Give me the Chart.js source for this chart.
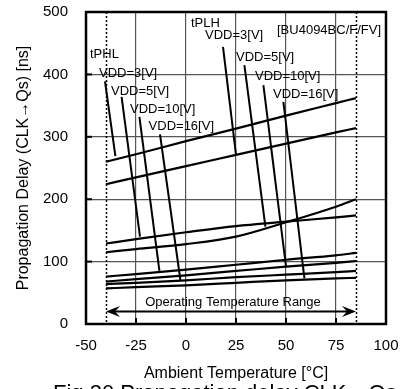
<!DOCTYPE html>
<html>
<head>
    <title>Propagation Delay vs Ambient Temperature</title>
    <script src="https://cdn.jsdelivr.net/npm/chart.js"></script>
    <style>
        body { margin: 0; background: #fff; }
    </style>
</head>
<body>
    <canvas id="plot" width="407" height="389"></canvas>

    <script>
        // Ambient temperature sample points [°C]
        const temps = [-40, -25, 0, 25, 50, 75, 85];

        // Propagation delay CLK->Qs [ns]
        const tPHL3 = [260, 272, 293, 313, 334, 354, 362];
        const tPLH3 = [224, 235, 253, 271, 289, 307, 314];
        const tPHL5 = [129, 136, 147, 157, 164, 171, 174];
        const tPLH5 = [115, 120, 128, 140, 163, 188, 200];
        const tPHL10 = [76, 80, 87, 95, 103, 110, 114];
        const tPLH10 = [68, 72, 78, 85, 92, 98, 101];
        const tPHL16 = [64, 66, 70, 75, 79, 83, 85];
        const tPLH16 = [57, 59, 62, 66, 70, 73, 74];

        const xTicks = [-50, -25, 0, 25, 50, 75, 100];
        const yTicks = [0, 100, 200, 300, 400, 500];

        // operating range limits [°C]
        const opRange = [-40, 85];

        // leader lines from labels to curves, in axis units [x1, y1, x2, y2]
        const leaders = [
            [-40.5, 389, -35.3, 269],
            [-32.2, 364, -23, 140],
            [-23.3, 332, -13.3, 85],
            [-13, 304, -2.8, 70.5],
            [18.5, 444, 25, 271],
            [29.2, 415, 39.7, 156],
            [38.7, 383, 50, 92],
            [48.7, 356, 59.2, 73]
        ];

        // label text with its left edge and vertical centre, in axis units
        const notes = [
            ['tPHL', -48, 432],
            ['VDD=3[V]', -43.5, 402],
            ['VDD=5[V]', -37.5, 373],
            ['VDD=10[V]', -28, 344.5],
            ['VDD=16[V]', -18.7, 317],
            ['tPLH', 2.5, 482],
            ['VDD=3[V]', 9.5, 463],
            ['VDD=5[V]', 25, 428],
            ['VDD=10[V]', 34.5, 397],
            ['VDD=16[V]', 43.5, 368.6],
            ['[BU4094BC/F/FV]', 45.5, 471]
        ];

        const FONT = '"Liberation Sans", Arial, sans-serif';

        const series = [tPHL3, tPLH3, tPHL5, tPLH5, tPHL10, tPLH10, tPHL16, tPLH16];
        const names = ['tPHL 3V', 'tPLH 3V', 'tPHL 5V', 'tPLH 5V', 'tPHL 10V', 'tPLH 10V', 'tPHL 16V', 'tPLH 16V'];

        const datasets = series.map((vals, i) => ({
            label: names[i],
            data: temps.map((t, j) => ({ x: t, y: vals[j] })),
            showLine: true,
            borderColor: '#000',
            borderWidth: 2.2,
            pointRadius: 0,
            cubicInterpolationMode: 'monotone'
        }));

        function arrowHead(ctx, x, y, dir) {
            ctx.beginPath();
            ctx.moveTo(x, y);
            ctx.lineTo(x + dir * 14, y - 5.5);
            ctx.lineTo(x + dir * 9, y);
            ctx.lineTo(x + dir * 14, y + 5.5);
            ctx.closePath();
            ctx.fill();
        }

        // no extra room for tick labels overhanging the plot
        function noOverhang(s) {
            s.paddingTop = 0;
            s.paddingBottom = 0;
            s.paddingLeft = 0;
            s.paddingRight = 0;
        }

        const decor = {
            id: 'decor',
            afterDatasetsDraw(chart) {
                const ctx = chart.ctx;
                const xs = chart.scales.x, ys = chart.scales.y;
                const a = chart.chartArea;
                ctx.save();

                // dotted operating range limits
                ctx.strokeStyle = '#000';
                ctx.lineWidth = 1.5;
                ctx.setLineDash([2, 2]);
                opRange.forEach(t => {
                    const px = Math.round(xs.getPixelForValue(t)) + 0.5;
                    ctx.beginPath();
                    ctx.moveTo(px, a.top);
                    ctx.lineTo(px, a.bottom);
                    ctx.stroke();
                });
                ctx.setLineDash([]);

                // leaders
                ctx.lineWidth = 2;
                leaders.forEach(l => {
                    ctx.beginPath();
                    ctx.moveTo(xs.getPixelForValue(l[0]), ys.getPixelForValue(l[1]));
                    ctx.lineTo(xs.getPixelForValue(l[2]), ys.getPixelForValue(l[3]));
                    ctx.stroke();
                });

                // labels
                ctx.fillStyle = '#000';
                ctx.font = '13px ' + FONT;
                ctx.textBaseline = 'middle';
                ctx.textAlign = 'left';
                notes.forEach(n => {
                    ctx.fillText(n[0], xs.getPixelForValue(n[1]), ys.getPixelForValue(n[2]));
                });

                // operating temperature range arrow
                const ay = ys.getPixelForValue(20);
                const ax1 = xs.getPixelForValue(opRange[0]);
                const ax2 = xs.getPixelForValue(opRange[1]);
                ctx.lineWidth = 2;
                ctx.beginPath();
                ctx.moveTo(ax1 + 8, ay);
                ctx.lineTo(ax2 - 8, ay);
                ctx.stroke();
                arrowHead(ctx, ax1, ay, 1);
                arrowHead(ctx, ax2, ay, -1);
                ctx.textAlign = 'center';
                ctx.fillText('Operating Temperature Range', xs.getPixelForValue(23.5), ys.getPixelForValue(35));

                // inward tick marks
                ctx.lineWidth = 2;
                yTicks.slice(1, -1).forEach(v => {
                    const py = ys.getPixelForValue(v);
                    ctx.beginPath();
                    ctx.moveTo(a.left, py);
                    ctx.lineTo(a.left + 6, py);
                    ctx.stroke();
                });
                xTicks.slice(1, -1).forEach(v => {
                    const px = xs.getPixelForValue(v);
                    ctx.beginPath();
                    ctx.moveTo(px, a.bottom);
                    ctx.lineTo(px, a.bottom - 6);
                    ctx.stroke();
                });

                // frame
                ctx.lineWidth = 2.5;
                ctx.strokeRect(a.left, a.top, a.right - a.left, a.bottom - a.top);
                ctx.restore();
            },
            afterDraw(chart) {
                const ctx = chart.ctx;
                ctx.save();
                ctx.fillStyle = '#000';
                ctx.font = '22px ' + FONT;
                ctx.textBaseline = 'alphabetic';
                ctx.textAlign = 'left';
                ctx.fillText('Fig.30 Propagation delay CLK\u2192Qs', 53, 400);
                ctx.restore();
            }
        };

        const ctx = document.getElementById('plot').getContext('2d');
        const chart = new Chart(ctx, {
            type: 'scatter',
            data: { datasets: datasets },
            options: {
                responsive: false,
                animation: false,
                devicePixelRatio: 1,
                layout: { padding: { left: 0, right: 21, top: 12, bottom: 0 } },
                plugins: {
                    legend: { display: false },
                    tooltip: { enabled: false }
                },
                scales: {
                    x: {
                        type: 'linear',
                        min: -50,
                        max: 100,
                        afterBuildTicks: s => { s.ticks = xTicks.map(v => ({ value: v })); },
                        afterFit: s => { s.height = 65; noOverhang(s); },
                        ticks: { color: '#000', font: { family: FONT, size: 15 }, padding: 13, maxRotation: 0 },
                        grid: { color: '#555', lineWidth: 1.2, drawTicks: false },
                        border: { display: false },
                        title: {
                            display: true,
                            text: 'Ambient Temperature [\u00B0C]',
                            color: '#000',
                            font: { family: FONT, size: 16 },
                            padding: 6
                        }
                    },
                    y: {
                        type: 'linear',
                        min: 0,
                        max: 500,
                        afterBuildTicks: s => { s.ticks = yTicks.map(v => ({ value: v })); },
                        afterFit: s => { s.width = 86; noOverhang(s); },
                        ticks: { color: '#000', font: { family: FONT, size: 15 }, padding: 18 },
                        grid: { color: '#555', lineWidth: 1.2, drawTicks: false },
                        border: { display: false },
                        title: {
                            display: true,
                            text: 'Propagation Delay (CLK\u2192Qs) [ns]',
                            color: '#000',
                            font: { family: FONT, size: 16 },
                            padding: 14
                        }
                    }
                }
            },
            plugins: [decor]
        });
    </script>
</body>
</html>
